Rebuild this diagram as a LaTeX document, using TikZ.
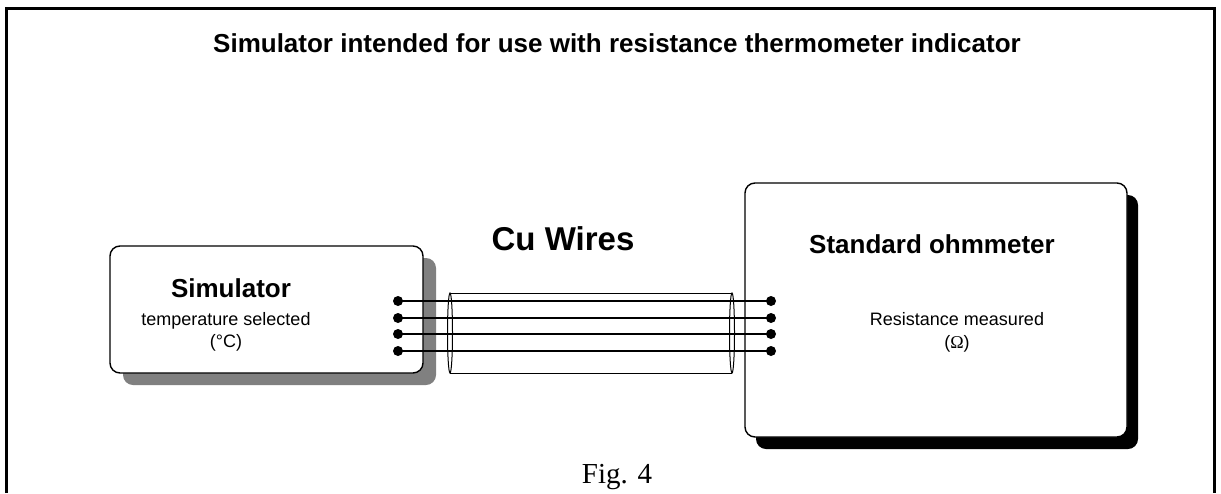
\documentclass[tikz,border=0pt]{standalone}
\usepackage{fontspec}
\setmainfont{Liberation Sans}
\newfontfamily\figfont{Liberation Serif}
\usetikzlibrary{shadows}

\begin{document}
\begin{tikzpicture}[x=1pt,y=-1pt,
  unit/.style={draw,line width=1.4pt,fill=white,rounded corners=10pt,inner sep=0pt},
  wire/.style={line width=2pt},
  big/.style={font=\bfseries\fontsize{26}{30}\selectfont},
  small/.style={font=\fontsize{18}{22}\selectfont}]
  \useasboundingbox (0,0) rectangle (1221,493);
  \draw[line width=3pt] (6,493) -- (6,8) -- (1214,8) -- (1214,493);
  \node[big,anchor=base] (title) at (617,52) {Simulator intended for use with resistance thermometer indicator};
  % boxes
  \node[unit,minimum width=313pt,minimum height=127pt,
    drop shadow={shadow xshift=13pt,shadow yshift=-12pt,fill=black!50,opacity=1}] (sim) at (266.5,309.5) {};
  \node[unit,minimum width=382pt,minimum height=254pt,
    drop shadow={shadow xshift=11pt,shadow yshift=-12pt,fill=black,opacity=1}] (ohm) at (936,310) {};
  \node[big,anchor=base] (simname) at (231,297) {Simulator};
  \node[small,anchor=base] (simsel) at (226,325) {temperature selected};
  \node[small,anchor=base] (simunit) at (226,347) {(°C)};
  \node[big,anchor=base] (ohmname) at (932,253) {Standard ohmmeter};
  \node[small,anchor=base] (ohmres) at (957,325) {Resistance measured};
  \node[small,anchor=base] (ohmunit) at (957,348) {({\figfont Ω})};
  % cable
  \coordinate (cl) at (450,333); \coordinate (cr) at (732,333);
  \draw[line width=1pt] ([yshift=40pt]cl) -- ([yshift=40pt]cr);
  \draw[line width=1pt] ([yshift=-40pt]cl) -- ([yshift=-40pt]cr);
  \draw[line width=1pt] (cl) ellipse [x radius=2.5, y radius=40];
  \draw[line width=1pt] (cr) ellipse [x radius=2.5, y radius=40];
  \node[font=\bfseries\fontsize{33}{38}\selectfont,anchor=base] (cu) at (563,250) {Cu Wires};
  % wires
  \foreach \i/\y in {1/301,2/318,3/334,4/351} {
    \coordinate (a\i) at (398,\y); \coordinate (b\i) at (771,\y);
    \draw[wire] (a\i) -- (b\i);
    \fill (a\i) circle (5pt); \fill (b\i) circle (5pt);
  }
  \node[font=\figfont\fontsize{29}{34}\selectfont,anchor=base] (fig) at (617,483) {Fig. 4};
\end{tikzpicture}
\end{document}
